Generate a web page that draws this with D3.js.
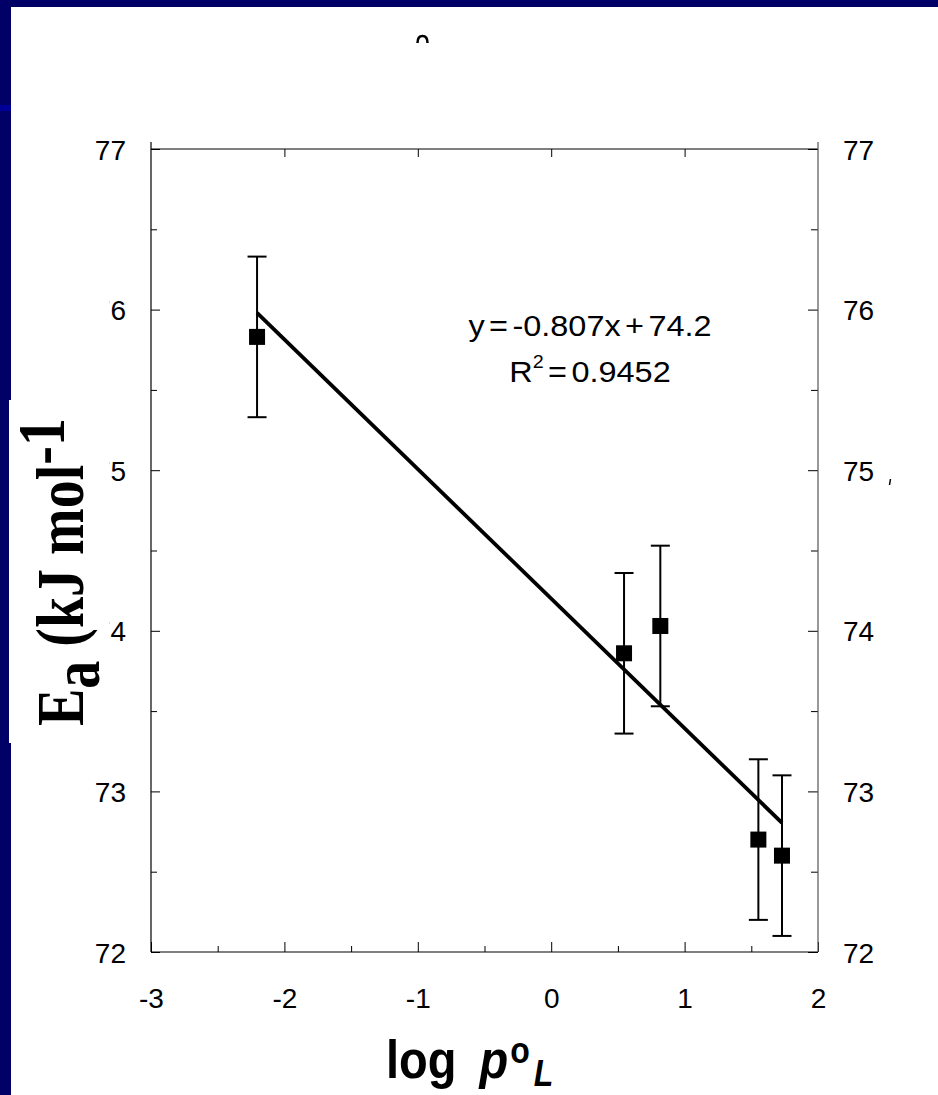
<!DOCTYPE html>
<html>
<head>
<meta charset="utf-8">
<script src="https://cdn.jsdelivr.net/npm/d3@7"></script>
<style>
  html, body { margin: 0; padding: 0; background: #000066; }
  svg { display: block; }
</style>
</head>
<body>
<svg id="chart" width="938" height="1095"></svg>
<script>
// ---- data ----
const xTicks = [-3, -2, -1, 0, 1, 2];
const xMinorTicks = [-2.5, -1.5, -0.5, 0.5, 1.5];
const yTicks = [72, 73, 74, 75, 76, 77];
const yMinorTicks = [72.5, 73.5, 74.5, 75.5, 76.5];
const logP = [-2.205, 0.546, 0.818, 1.553, 1.730];
const Ea = [75.83, 73.86, 74.03, 72.70, 72.60];
const EaErr = [0.50, 0.50, 0.50, 0.50, 0.50];
const fitSlope = -0.807;
const fitIntercept = 74.2;
const eqText = "y = -0.807x + 74.2";
const r2Value = "0.9452";

// ---- layout ----
const W = 938, H = 1095;
const plot = { left: 151, right: 818, top: 149, bottom: 952 };
const svg = d3.select("#chart");
const font = "'Liberation Sans', Arial, sans-serif";
const fmt = d => String(d);

// background frame
svg.append("rect").attr("x", 0).attr("y", 0).attr("width", W).attr("height", H).attr("fill", "#000066");
svg.append("rect").attr("x", 0).attr("y", 105).attr("width", 11).attr("height", 6).attr("fill", "#000099");
svg.append("rect").attr("x", 11).attr("y", 7).attr("width", W - 11).attr("height", H - 7).attr("fill", "#ffffff");

const x = d3.scaleLinear().domain([-3, 2]).range([plot.left, plot.right]);
const y = d3.scaleLinear().domain([72, 77]).range([plot.bottom, plot.top]);

function styleAxis(g, size) {
  g.selectAll(".domain").remove();
  g.selectAll("line").attr("stroke", "#000").attr("stroke-width", 1);
  g.selectAll("text").attr("font-family", font).attr("font-size", size).attr("fill", "#000");
}

// left axis (ticks inward)
const gl = svg.append("g").attr("transform", `translate(${plot.left},0)`)
  .call(d3.axisLeft(y).tickValues(yTicks).tickSize(-9).tickPadding(25).tickFormat(fmt));
styleAxis(gl, 28);
gl.selectAll("text").attr("dy", "0.36em");
const glm = svg.append("g").attr("transform", `translate(${plot.left},0)`)
  .call(d3.axisLeft(y).tickValues(yMinorTicks).tickSize(-6).tickFormat(""));
styleAxis(glm, 0);

// right axis (ticks inward)
const gr = svg.append("g").attr("transform", `translate(${plot.right},0)`)
  .call(d3.axisRight(y).tickValues(yTicks).tickSize(-10).tickPadding(25).tickFormat(fmt));
styleAxis(gr, 28);
gr.selectAll("text").attr("dy", "0.36em");
const grm = svg.append("g").attr("transform", `translate(${plot.right},0)`)
  .call(d3.axisRight(y).tickValues(yMinorTicks).tickSize(-7).tickFormat(""));
styleAxis(grm, 0);

// bottom axis (ticks upward)
const gb = svg.append("g").attr("transform", `translate(0,${plot.bottom})`)
  .call(d3.axisBottom(x).tickValues(xTicks).tickSize(-10).tickPadding(56).tickFormat(fmt));
styleAxis(gb, 28);
gb.selectAll("text").attr("dy", "0");
const gbm = svg.append("g").attr("transform", `translate(0,${plot.bottom})`)
  .call(d3.axisBottom(x).tickValues(xMinorTicks).tickSize(-6).tickFormat(""));
styleAxis(gbm, 0);

// top axis (ticks downward, majors only)
const gt = svg.append("g").attr("transform", `translate(0,${plot.top})`)
  .call(d3.axisTop(x).tickValues(xTicks.slice(1, -1)).tickSize(-8).tickFormat(""));
styleAxis(gt, 0);

// axis lines
const overhang = 7;
svg.append("line").attr("x1", x(-3)).attr("x2", x(2)).attr("y1", y(72)).attr("y2", y(72)).attr("stroke", "#000").attr("stroke-width", 1.2);
svg.append("line").attr("x1", x(-3)).attr("x2", x(2)).attr("y1", y(77)).attr("y2", y(77)).attr("stroke", "#000").attr("stroke-width", 1.2);
svg.append("line").attr("x1", x(-3)).attr("x2", x(-3)).attr("y1", y(77) - overhang).attr("y2", y(72)).attr("stroke", "#000").attr("stroke-width", 1.2);
svg.append("line").attr("x1", x(2)).attr("x2", x(2)).attr("y1", y(77) - overhang).attr("y2", y(72)).attr("stroke", "#555").attr("stroke-width", 1.2);

// white box behind y-axis title (covers part of tick labels)
svg.append("rect").attr("x", 11).attr("y", 290).attr("width", 98).attr("height", 453).attr("fill", "#ffffff");
svg.append("rect").attr("x", 9).attr("y", 400).attr("width", 3).attr("height", 343).attr("fill", "#ffffff");

// regression line
const xMin = d3.min(logP), xMax = d3.max(logP);
svg.append("line")
  .attr("x1", x(xMin)).attr("y1", y(fitSlope * xMin + fitIntercept))
  .attr("x2", x(xMax)).attr("y2", y(fitSlope * xMax + fitIntercept))
  .attr("stroke", "#000").attr("stroke-width", 3.8);

// error bars
const pts = logP.map((v, i) => ({ x: v, y: Ea[i], e: EaErr[i] }));
const eb = svg.append("g");
eb.selectAll("line.v").data(pts).join("line").attr("class", "v")
  .attr("x1", d => x(d.x)).attr("x2", d => x(d.x))
  .attr("y1", d => y(d.y + d.e)).attr("y2", d => y(d.y - d.e))
  .attr("stroke", "#000").attr("stroke-width", 2);
["top", "bot"].forEach(k => {
  eb.selectAll("line." + k).data(pts).join("line").attr("class", k)
    .attr("x1", d => x(d.x) - 9.5).attr("x2", d => x(d.x) + 9.5)
    .attr("y1", d => y(k === "top" ? d.y + d.e : d.y - d.e))
    .attr("y2", d => y(k === "top" ? d.y + d.e : d.y - d.e))
    .attr("stroke", "#000").attr("stroke-width", 2);
});

// markers
const ms = 16;
svg.append("g").selectAll("rect").data(pts).join("rect")
  .attr("x", d => x(d.x) - ms / 2).attr("y", d => y(d.y) - ms / 2)
  .attr("width", ms).attr("height", ms).attr("fill", "#000");

// equation
svg.append("text")
  .attr("transform", "translate(590,336) scale(1.16,1.04)")
  .attr("text-anchor", "middle").attr("font-family", font).attr("font-size", 28)
  .attr("word-spacing", "-4px").attr("fill", "#000").text(eqText);
const r2 = svg.append("text")
  .attr("transform", "translate(590,382) scale(1.16,1.04)")
  .attr("text-anchor", "middle").attr("font-family", font).attr("font-size", 28)
  .attr("word-spacing", "-4px").attr("fill", "#000");
r2.append("tspan").text("R");
r2.append("tspan").attr("font-size", 17).attr("dy", -13).text("2");
r2.append("tspan").attr("dy", 13).text(" = " + r2Value);

// y-axis title
const yt = svg.append("text")
  .attr("transform", "translate(83,726) rotate(-90) scale(1,1.21)")
  .attr("font-family", "'Liberation Serif', 'Times New Roman', serif")
  .attr("font-weight", "bold").attr("font-size", 56).attr("fill", "#000");
yt.append("tspan").text("E");
yt.append("tspan").attr("dy", 13).text("a");
yt.append("tspan").attr("dy", -13).text(" (kJ mol");
yt.append("tspan").attr("dy", -16).text("-1");

// x-axis title
const xt = svg.append("text")
  .attr("transform", "translate(386,1078) scale(1,1.16)")
  .attr("font-family", font).attr("font-weight", "bold").attr("font-size", 47).attr("fill", "#000");
xt.append("tspan").text("log ");
xt.append("tspan").attr("font-style", "italic").attr("dx", 10).text("p");
xt.append("tspan").attr("font-size", 32).attr("dx", 2).attr("dy", -13).text("o");
xt.append("tspan").attr("font-size", 32).attr("font-style", "italic").attr("dx", 4).attr("dy", 20).text("L");

// stray fragments
svg.append("path").attr("d", "M417.5,43 Q417.5,36 422.5,36 Q427.5,36 427.5,43")
  .attr("fill", "none").attr("stroke", "#000").attr("stroke-width", 2.5);
svg.append("path").attr("d", "M890.5,479 L889.5,485")
  .attr("fill", "none").attr("stroke", "#000").attr("stroke-width", 1.5);
</script>
</body>
</html>
